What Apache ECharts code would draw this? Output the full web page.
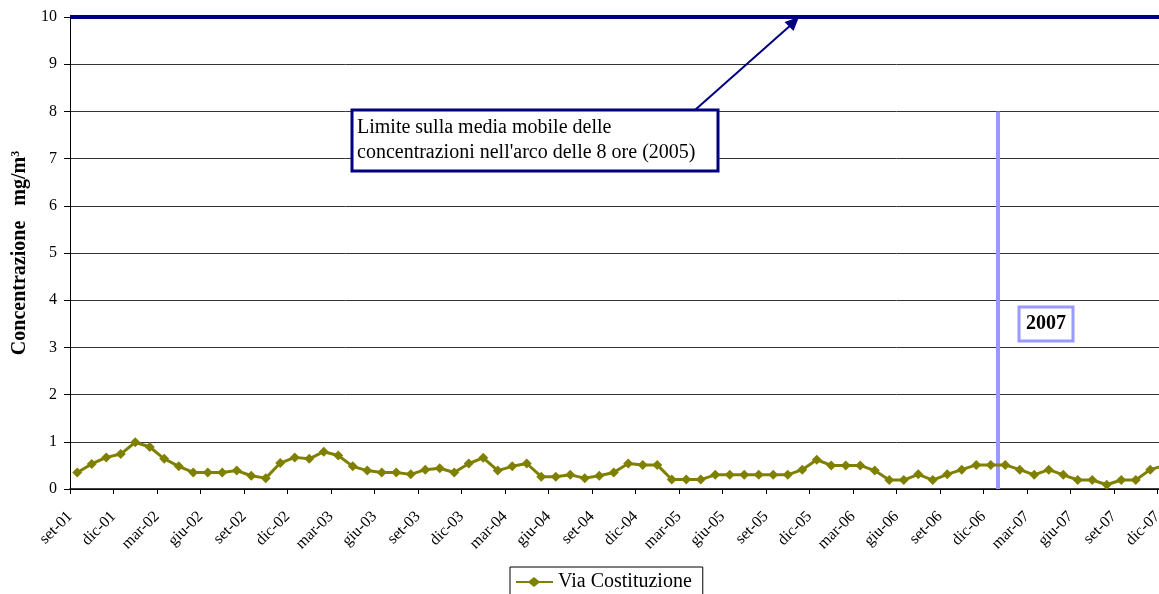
<!DOCTYPE html>
<html><head><meta charset="utf-8">
<script src="https://cdn.jsdelivr.net/npm/echarts@6/dist/echarts.min.js"></script>
<style>html,body{margin:0;padding:0;background:#fff;overflow:hidden;width:1159px;height:594px}#c{width:1172px;height:594px}</style>
</head><body><div id="c"></div>
<script>
// ---- data ----
const months = [
  'set-01','ott-01','nov-01','dic-01',
  'gen-02','feb-02','mar-02','apr-02','mag-02','giu-02','lug-02','ago-02','set-02','ott-02','nov-02','dic-02',
  'gen-03','feb-03','mar-03','apr-03','mag-03','giu-03','lug-03','ago-03','set-03','ott-03','nov-03','dic-03',
  'gen-04','feb-04','mar-04','apr-04','mag-04','giu-04','lug-04','ago-04','set-04','ott-04','nov-04','dic-04',
  'gen-05','feb-05','mar-05','apr-05','mag-05','giu-05','lug-05','ago-05','set-05','ott-05','nov-05','dic-05',
  'gen-06','feb-06','mar-06','apr-06','mag-06','giu-06','lug-06','ago-06','set-06','ott-06','nov-06','dic-06',
  'gen-07','feb-07','mar-07','apr-07','mag-07','giu-07','lug-07','ago-07','set-07','ott-07','nov-07','dic-07'
];
const monthAfterLast = 'gen-08';
const viaCostituzione = [
  0.35,0.53,0.67,0.74,
  0.99,0.89,0.64,0.48,0.35,0.35,0.35,0.39,0.28,0.23,0.55,0.67,
  0.64,0.79,0.71,0.48,0.39,0.35,0.35,0.31,0.41,0.44,0.35,0.54,
  0.66,0.39,0.48,0.54,0.26,0.26,0.30,0.23,0.28,0.35,0.54,0.51,
  0.51,0.20,0.20,0.20,0.30,0.30,0.30,0.30,0.30,0.30,0.41,0.62,
  0.50,0.50,0.50,0.39,0.19,0.19,0.31,0.19,0.31,0.41,0.51,0.51,
  0.51,0.41,0.30,0.41,0.30,0.19,0.19,0.09,0.19,0.19,0.41,0.50
];
const seriesName = 'Via Costituzione';
const limitValue = 10;            // limite media mobile 8 ore
const yearMarkMonth = 'gen-07';   // inizio 2007
const yearMarkTop = 8;
const yMin = 0, yMax = 10, yStep = 1;
const annotationText = "Limite sulla media mobile delle\nconcentrazioni nell'arco delle 8 ore (2005)";
const yearText = '2007';

// ---- chart ----
const serif = 'Liberation Serif, Times New Roman, serif';
const chart = echarts.init(document.getElementById('c'), null, {renderer: 'canvas', width: 1172, height: 594});
const boundaries = months.concat([monthAfterLast]);

chart.setOption({
  animation: false,
  backgroundColor: '#fff',
  grid: {left: 70, top: 17, bottom: 105, right: 0, containLabel: false},
  legend: {
    data: [{name: seriesName, icon: 'path://M0,4 L13,4 L18,0 L23,4 L37,4 L37,6 L23,6 L18,10 L13,6 L0,6 Z'}],
    left: 510, top: 567, itemWidth: 37, itemHeight: 10, itemGap: 5,
    padding: [5, 11, 8, 6],
    borderColor: '#000', borderWidth: 1,
    textStyle: {fontFamily: serif, fontSize: 20, color: '#000'},
    itemStyle: {color: '#808000'}
  },
  xAxis: [
    {
      type: 'category', data: months, boundaryGap: true,
      axisLine: {show: true, lineStyle: {color: '#000', width: 1.5}},
      axisTick: {show: false}, axisLabel: {show: false}, splitLine: {show: false}
    },
    {
      type: 'category', data: boundaries, boundaryGap: false, position: 'bottom',
      axisLine: {show: false},
      axisTick: {show: true, interval: 2, length: 5, lineStyle: {color: '#000', width: 1}},
      axisLabel: {show: true, interval: 2, rotate: 45, margin: 25, fontFamily: serif, fontSize: 16, color: '#000',
        formatter: function (v) { return v === monthAfterLast ? '' : v; }},
      splitLine: {show: false}
    }
  ],
  yAxis: {
    type: 'value', min: yMin, max: yMax, interval: yStep,
    axisLine: {show: true, lineStyle: {color: '#000', width: 1}},
    axisTick: {show: true, length: 6, lineStyle: {color: '#000'}},
    axisLabel: {margin: 13, fontFamily: serif, fontSize: 16, color: '#000'},
    splitLine: {show: true, lineStyle: {color: '#333', width: 1}},
    name: '{a|Concentrazione   mg/m}{s|3}',
    nameLocation: 'middle', nameGap: 36, nameRotate: 90,
    nameTextStyle: {
      fontFamily: serif, fontWeight: 'bold', fontSize: 20, color: '#000',
      rich: {
        a: {fontFamily: serif, fontWeight: 'bold', fontSize: 20, color: '#000'},
        s: {fontFamily: serif, fontWeight: 'bold', fontSize: 12, color: '#000', verticalAlign: 'top'}
      }
    }
  },
  series: [
    {
      name: seriesName, type: 'line', data: viaCostituzione,
      xAxisIndex: 0, yAxisIndex: 0,
      symbol: 'diamond', symbolSize: 10, showAllSymbol: true,
      lineStyle: {color: '#808000', width: 3},
      itemStyle: {color: '#808000'},
      z: 5,
      markLine: {
        silent: true, symbol: ['none', 'none'],
        label: {show: false},
        lineStyle: {color: '#000080', width: 4, type: 'solid'},
        data: [{yAxis: limitValue}]
      }
    },
    {
      name: '2007-mark', type: 'line', xAxisIndex: 1, yAxisIndex: 0,
      data: [[yearMarkMonth, 0], [yearMarkMonth, yearMarkTop]],
      symbol: 'none', lineStyle: {color: '#9999FF', width: 4}, z: 4, silent: true
    }
  ],
  graphic: [
    {type: 'line', shape: {x1: 695, y1: 110, x2: 792, y2: 24}, style: {stroke: '#000080', lineWidth: 2}, z: 100},
    {type: 'polygon', shape: {points: [[799, 17], [793.5, 31], [784.5, 22]]}, style: {fill: '#000080'}, z: 100},
    {type: 'rect', shape: {x: 352, y: 110, width: 366, height: 61}, style: {fill: '#fff', stroke: '#000080', lineWidth: 3}, z: 100},
    {type: 'text', x: 357, y: 115, style: {text: annotationText, font: '20px ' + serif, fill: '#000', lineHeight: 25}, z: 101},
    {type: 'rect', shape: {x: 1019, y: 307, width: 54, height: 34}, style: {fill: '#fff', stroke: '#9999FF', lineWidth: 3}, z: 100},
    {type: 'text', x: 1046, y: 324, style: {text: yearText, font: 'bold 20px ' + serif, fill: '#000', align: 'center', verticalAlign: 'middle'}, z: 101}
  ]
});
</script>
</body></html>
